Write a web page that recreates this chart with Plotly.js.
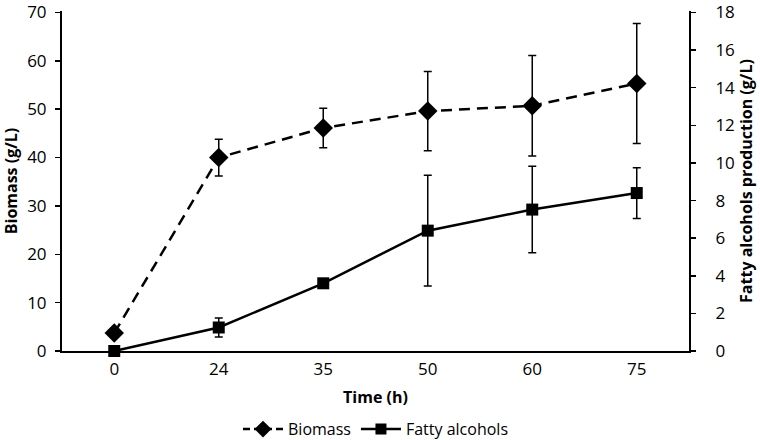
<!DOCTYPE html>
<html>
<head>
<meta charset="utf-8">
<script src="https://cdn.plot.ly/plotly-3.0.1.min.js"></script>
<style>html,body{margin:0;padding:0;background:#fff;}#chart{width:760px;height:440px;}</style>
</head>
<body>
<div id="chart"></div>
<script>
const timeLabels = ["0", "24", "35", "50", "60", "75"];
const biomass = [3.7, 40.0, 46.1, 49.6, 50.7, 55.3];
const biomassErr = [0, 3.8, 4.1, 8.2, 10.4, 12.4];
const fatty = [0, 1.25, 3.6, 6.4, 7.52, 8.4];
const fattyErr = [0, 0.5, 0, 2.95, 2.3, 1.35];
const seriesNames = ["Biomass", "Fatty alcohols"];

const font = "Open Sans, DejaVu Sans, sans-serif";

const traces = [
  {
    x: timeLabels, y: biomass, name: seriesNames[0], type: "scatter", mode: "lines+markers",
    line: {color: "#000", width: 2.5, dash: "11px,7px"},
    marker: {symbol: "diamond", size: 15, color: "#000"},
    error_y: {type: "data", array: biomassErr, visible: true, color: "#000", thickness: 1.5, width: 4},
    yaxis: "y", cliponaxis: false, showlegend: false
  },
  {
    x: timeLabels, y: fatty, name: seriesNames[1], type: "scatter", mode: "lines+markers",
    line: {color: "#000", width: 2.5},
    marker: {symbol: "square", size: 12, color: "#000"},
    error_y: {type: "data", array: fattyErr, visible: true, color: "#000", thickness: 1.5, width: 4},
    yaxis: "y2", cliponaxis: false, showlegend: false
  },
  {
    x: [null], y: [null], name: seriesNames[0], type: "scatter", mode: "lines+markers",
    line: {color: "#000", width: 2.5, dash: "7px,4px"},
    marker: {symbol: "diamond", size: 13, color: "#000"}
  },
  {
    x: [null], y: [null], name: seriesNames[1], type: "scatter", mode: "lines+markers",
    line: {color: "#000", width: 2.5},
    marker: {symbol: "square", size: 11, color: "#000"}
  }
];

const layout = {
  width: 760, height: 440,
  margin: {l: 62, r: 71, t: 11, b: 89, autoexpand: false},
  paper_bgcolor: "#fff", plot_bgcolor: "#fff",
  font: {family: font, size: 16, color: "#000"},
  showlegend: true,
  legend: {orientation: "h", x: 0.5, xanchor: "center", y: -0.23, yanchor: "middle", font: {size: 16}, itemwidth: 40, tracegroupgap: 0},
  xaxis: {
    type: "category", range: [-0.5, 5.5],
    showline: true, linecolor: "#000", linewidth: 2,
    showgrid: false, zeroline: false, ticks: "", ticklabelstandoff: 2,
    title: {text: "<b>Time (h)</b>", font: {size: 16}, standoff: 12},
    tickfont: {size: 17}, automargin: false
  },
  yaxis: {
    range: [0, 70.3], tick0: 0, dtick: 10,
    showline: true, linecolor: "#000", linewidth: 2,
    showgrid: false, zeroline: false,
    ticks: "outside", ticklen: 5, tickwidth: 1.5, tickcolor: "#000", ticklabelstandoff: 5,
    ticklabeloverflow: "allow",
    title: {text: "<b>Biomass (g/L)</b>", font: {size: 16}, standoff: 6},
    tickfont: {size: 17}, automargin: false
  },
  yaxis2: {
    range: [0, 18.08], tick0: 0, dtick: 2, overlaying: "y", side: "right",
    showline: true, linecolor: "#000", linewidth: 2,
    showgrid: false, zeroline: false,
    ticks: "outside", ticklen: 5, tickwidth: 1.5, tickcolor: "#000", ticklabelstandoff: 16,
    ticklabeloverflow: "allow",
    title: {text: "<b>Fatty alcohols production (g/L)</b>", font: {size: 16}, standoff: 4},
    tickfont: {size: 17}, automargin: false
  }
};

Plotly.newPlot("chart", traces, layout, {displayModeBar: false, staticPlot: true});
</script>
</body>
</html>
